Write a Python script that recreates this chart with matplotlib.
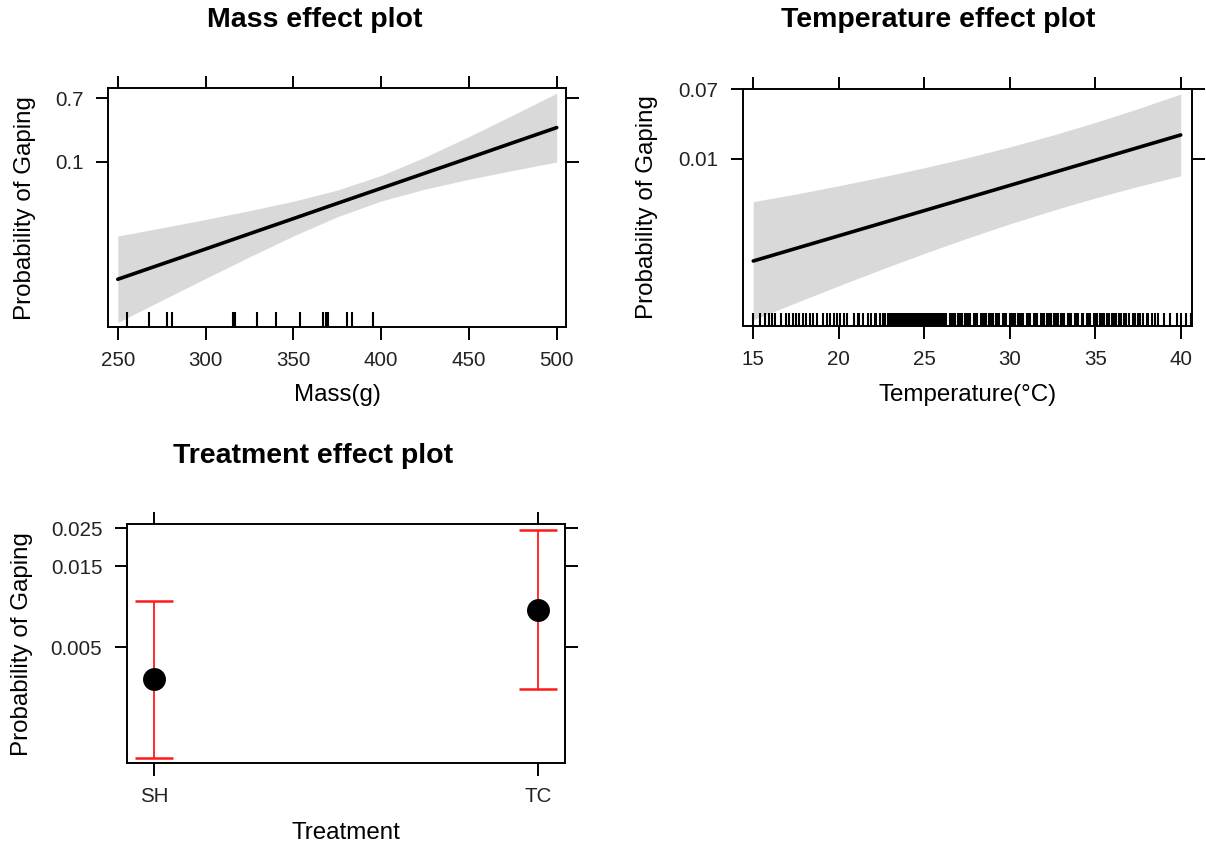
import matplotlib
matplotlib.use("Agg")
import matplotlib.pyplot as plt
import matplotlib.ticker as mticker

plt.rcParams['font.family'] = ['Liberation Sans', 'DejaVu Sans']

# Mass effect (probabilities)
mass_x = [250, 275, 300, 325, 350, 375, 400, 425, 450, 475, 500]
mass_fit = [0.000394, 0.000814, 0.00168, 0.00348, 0.00718, 0.0148, 0.0301, 0.0603, 0.117, 0.216, 0.363]
mass_lower = [4.95e-5, 1.43e-4, 4.09e-4, 1.153e-3, 3.135e-3, 7.82e-3, 0.01652, 0.02892, 0.04551, 0.06798, 0.0986]
mass_upper = [0.003126, 0.004627, 0.006901, 0.010457, 0.01637, 0.02762, 0.05411, 0.1215, 0.2703, 0.509, 0.7475]
mass_rug = [255.5, 267.5, 277.8, 281.0, 315.7, 316.8, 329.1, 340.3, 353.7, 367.1, 368.4, 369.8,
            380.6, 383.5, 395.3]

# Temperature effect
temp_x = [15, 17.5, 20, 22.5, 25, 27.5, 30, 32.5, 35, 37.5, 40]
temp_fit = [5.34e-4, 7.68e-4, 1.103e-3, 1.585e-3, 2.276e-3, 3.269e-3, 4.693e-3, 6.734e-3, 9.652e-3, 0.01384, 0.01978]
temp_lower = [9.80e-5, 1.609e-4, 2.616e-4, 4.20e-4, 6.63e-4, 1.027e-3, 1.554e-3, 2.287e-3, 3.272e-3, 4.56e-3, 6.17e-3]
temp_upper = [2.95e-3, 3.66e-3, 4.65e-3, 5.97e-3, 7.78e-3, 0.01035, 0.01408, 0.01965, 0.02811, 0.04125, 0.06158]
temp_rug = [
    15.0, 15.4, 15.7, 15.9,
    16.1, 16.3, 16.6, 16.9,
    17.1, 17.3, 17.5, 17.7, 17.9,
    18.1, 18.3, 18.5, 18.7,
    19.1, 19.3, 19.5, 19.7, 19.9,
    20.1, 20.3, 20.5, 20.9,
    21.1, 21.2, 21.4, 21.7, 21.9,
    22.1, 22.2, 22.4, 22.6, 22.7, 22.9,
    23.0, 23.1, 23.2, 23.3, 23.4, 23.5, 23.6, 23.7, 23.8, 23.9,
    24.0, 24.1, 24.2, 24.3, 24.4, 24.5, 24.6, 24.7, 24.8, 24.9,
    25.0, 25.1, 25.2, 25.3, 25.4, 25.5, 25.6, 25.7, 25.8, 25.9,
    26.0, 26.1, 26.2, 26.3, 26.5, 26.6, 26.7, 26.8,
    27.0, 27.1, 27.2, 27.4, 27.5, 27.6, 27.7, 27.9,
    28.0, 28.1, 28.3, 28.4, 28.5, 28.6, 28.8, 28.9,
    29.0, 29.2, 29.3, 29.4, 29.6, 29.7, 29.8,
    30.0, 30.1, 30.2, 30.3, 30.5, 30.6, 30.7, 30.8,
    31.0, 31.1, 31.2, 31.4, 31.5, 31.6, 31.8, 31.9,
    32.0, 32.2, 32.3, 32.4, 32.6, 32.7, 32.8,
    33.0, 33.1, 33.2, 33.4, 33.5, 33.6, 33.8, 33.9,
    34.0, 34.2, 34.3, 34.5, 34.6, 34.7, 34.9,
    35.0, 35.1, 35.3, 35.4, 35.5, 35.7, 35.8,
    36.0, 36.1, 36.2, 36.4, 36.5, 36.7, 36.8,
    37.0, 37.2, 37.3, 37.5, 37.6, 37.8,
    38.0, 38.1, 38.3, 38.5, 38.7,
    39.0, 39.4, 39.8,
    40.0, 40.3, 40.6,
]

# Treatment effect
treat_levels = ['SH', 'TC']
treat_fit = [0.00324, 0.00833]
treat_lower = [0.00110, 0.00284]
treat_upper = [0.00942, 0.0245]

band_col = '#d9d9d9'
TICK = 14.8
LAB = 17.4


def style(ax):
    ax.set_yscale('logit')
    ax.yaxis.set_minor_locator(mticker.NullLocator())
    ax.xaxis.set_minor_locator(mticker.NullLocator())
    for s in ax.spines.values():
        s.set_linewidth(1.4)
    ax.tick_params(axis='both', which='major', direction='out', length=9, width=1.4,
                   top=True, right=True, labeltop=False, labelright=False,
                   labelsize=TICK, labelcolor='#222222')
    ax.tick_params(axis='x', pad=8)
    ax.tick_params(axis='y', pad=9)


fig = plt.figure(figsize=(12.06, 8.48), dpi=100)

# Mass panel
ax1 = fig.add_axes([0.0898, 0.6144, 0.3795, 0.2815])
style(ax1)
ax1.fill_between(mass_x, mass_lower, mass_upper, color=band_col, lw=0)
ax1.plot(mass_x, mass_fit, color='black', lw=2.6, solid_capstyle='round')
ax1.vlines(mass_rug, 0, 0.062, color='black', lw=1.5, transform=ax1.get_xaxis_transform())
ax1.set_xlim(244.6, 505.3)
ax1.set_ylim(3.99e-5, 0.79)
ax1.set_xticks([250, 300, 350, 400, 450, 500])
ax1.set_xticklabels(['250', '300', '350', '400', '450', '500'])
ax1.set_yticks([0.1, 0.7])
ax1.set_yticklabels(['0.1', '0.7'])
ax1.set_xlabel('Mass(g)', fontsize=LAB)
ax1.xaxis.set_label_coords(0.5, -0.285)
ax1.xaxis.label.set_va('center')
ax1.set_ylabel('Probability of Gaping', fontsize=LAB)
ax1.yaxis.set_label_coords(-0.182, 0.5)
ax1.yaxis.label.set_va('center')
fig.text(315 / 1206, 1 - 20 / 848, 'Mass effect plot', ha='center', va='center',
         fontsize=20.5, fontweight='bold')

# Temperature panel
ax2 = fig.add_axes([0.6163, 0.6156, 0.3718, 0.2795])
style(ax2)
ax2.fill_between(temp_x, temp_lower, temp_upper, color=band_col, lw=0)
ax2.plot(temp_x, temp_fit, color='black', lw=2.6, solid_capstyle='round')
ax2.vlines(temp_rug, 0, 0.056, color='black', lw=1.5, transform=ax2.get_xaxis_transform())
ax2.set_xlim(14.415, 40.64)
ax2.set_ylim(8.22e-5, 0.0706)
ax2.set_xticks([15, 20, 25, 30, 35, 40])
ax2.set_xticklabels(['15', '20', '25', '30', '35', '40'])
ax2.set_yticks([0.01, 0.07])
ax2.set_yticklabels(['0.01', '0.07'])
ax2.set_xlabel('Temperature(°C)', fontsize=LAB)
ax2.xaxis.set_label_coords(0.5, -0.29)
ax2.xaxis.label.set_va('center')
ax2.set_ylabel('Probability of Gaping', fontsize=LAB)
ax2.yaxis.set_label_coords(-0.2148, 0.5)
ax2.yaxis.label.set_va('center')
fig.text(938 / 1206, 1 - 20 / 848, 'Temperature effect plot', ha='center', va='center',
         fontsize=20.5, fontweight='bold')

# Treatment panel
ax3 = fig.add_axes([0.1056, 0.0998, 0.3629, 0.2818])
style(ax3)
pos = [1, 2]
yerr = [[f - l for f, l in zip(treat_fit, treat_lower)],
        [u - f for f, u in zip(treat_fit, treat_upper)]]
ax3.errorbar(pos, treat_fit, yerr=yerr, fmt='none', ecolor='#ff1a1a', elinewidth=1.3,
             capsize=13.5, capthick=1.8)
ax3.plot(pos, treat_fit, 'o', color='black', markersize=15.5, zorder=5)
ax3.set_xlim(0.9296, 2.0704)
ax3.set_ylim(1.024e-3, 0.02637)
ax3.set_xticks(pos)
ax3.set_xticklabels(treat_levels)
ax3.set_yticks([0.005, 0.015, 0.025])
ax3.set_yticklabels(['0.005', '0.015', '0.025'])
ax3.set_xlabel('Treatment', fontsize=LAB)
ax3.xaxis.set_label_coords(0.5, -0.293)
ax3.xaxis.label.set_va('center')
ax3.set_ylabel('Probability of Gaping', fontsize=LAB)
ax3.yaxis.set_label_coords(-0.2413, 0.5)
ax3.yaxis.label.set_va('center')
fig.text(313 / 1206, 1 - 456 / 848, 'Treatment effect plot', ha='center', va='center',
         fontsize=20.5, fontweight='bold')

fig.savefig('out.png', dpi=100)
